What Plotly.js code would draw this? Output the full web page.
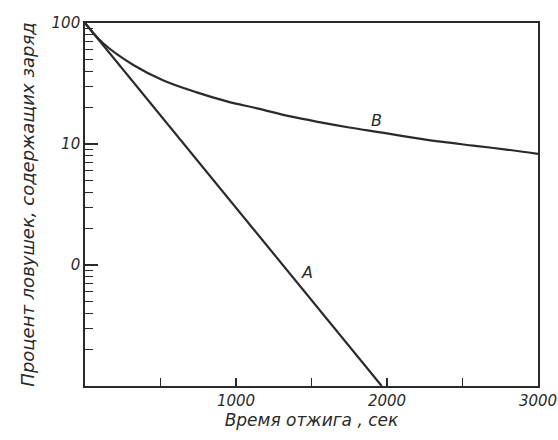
<!DOCTYPE html>
<html>
<head>
<meta charset="utf-8">
<script src="https://cdn.plot.ly/plotly-3.0.1.min.js"></script>
<style>html,body{margin:0;padding:0;background:#fff;}#chart{width:558px;height:440px;}</style>
</head>
<body>
<div id="chart"></div>
<script>
// Curve A (straight on log scale)
const timeA = [0, 500, 1000, 1500, 1965];
const percentA = [100, 17.3, 2.97, 0.51, 0.1];
// Curve B
const timeB = [0, 120, 320, 520, 740, 940, 1140, 1360, 1560, 1750, 1970, 2170, 2370, 2570, 2790, 3000];
const percentB = [100, 68, 45, 33.5, 26.7, 22.5, 19.7, 16.9, 15.1, 13.7, 12.4, 11.3, 10.4, 9.7, 9.0, 8.3];
// Axis ticks
const xTickVals = [500, 1000, 1500, 2000, 2500, 3000];
const xTickText = ['', '1000', '', '2000', '', '3000'];
const yTickVals = [1, 10, 100];
const yTickText = ['0', '10', '100'];
const yMinorVals = [0.2,0.3,0.4,0.5,0.6,0.7,0.8,0.9, 2,3,4,5,6,7,8,9, 20,30,40,50,60,70,80,90];
// Curve labels
const labelNames = ['A', 'B'];
const labelX = [1469, 1932];
const labelY = [0.87, 15.7];

const ink = '#2a2a2a';
const fontFam = '"DejaVu Sans", "Liberation Sans", sans-serif';

const traces = [
  {x: timeA, y: percentA, mode: 'lines', line: {color: ink, width: 2.2}, hoverinfo: 'skip'},
  {x: timeB, y: percentB, mode: 'lines', line: {color: ink, width: 2.2, shape: 'spline', smoothing: 1}, hoverinfo: 'skip'}
];

const annotations = labelNames.map((t, i) => ({
  x: labelX[i], y: Math.log10(labelY[i]), xref: 'x', yref: 'y', text: '<i>' + t + '</i>',
  showarrow: false, font: {family: fontFam, size: 16, color: ink}
}));

const layout = {
  width: 558, height: 440,
  margin: {l: 85, r: 20, t: 23, b: 54},
  paper_bgcolor: '#ffffff', plot_bgcolor: '#ffffff',
  showlegend: false,
  font: {family: fontFam, color: ink},
  xaxis: {
    range: [0, 3000], showgrid: false, zeroline: false,
    showline: true, mirror: true, linecolor: ink, linewidth: 1.8,
    tickmode: 'array', tickvals: xTickVals, ticktext: xTickText,
    ticks: 'inside', ticklen: 8, tickwidth: 1.2, tickcolor: ink,
    ticklabeloverflow: 'allow',
    tickfont: {family: fontFam, size: 15, color: ink, style: 'italic'},
    title: {text: '<i>Время отжига , сек</i>', font: {family: fontFam, size: 17, color: ink}, standoff: 2}
  },
  yaxis: {
    type: 'log', range: [-1, 2], showgrid: false, zeroline: false,
    showline: true, mirror: true, linecolor: ink, linewidth: 1.8,
    tickmode: 'array', tickvals: yTickVals, ticktext: yTickText,
    ticks: 'inside', ticklen: 13, tickwidth: 1.2, tickcolor: ink,
    tickfont: {family: fontFam, size: 15, color: ink, style: 'italic'},
    minor: {tickmode: 'array', tickvals: yMinorVals, ticks: 'inside', ticklen: 8, tickwidth: 1.2, tickcolor: ink, showgrid: false},
    title: {text: '<i>Процент ловушек, содержащих заряд</i>', font: {family: fontFam, size: 18, color: ink}, standoff: 12}
  },
  annotations: annotations
};

Plotly.newPlot('chart', traces, layout, {staticPlot: true, displayModeBar: false});
</script>
</body>
</html>
